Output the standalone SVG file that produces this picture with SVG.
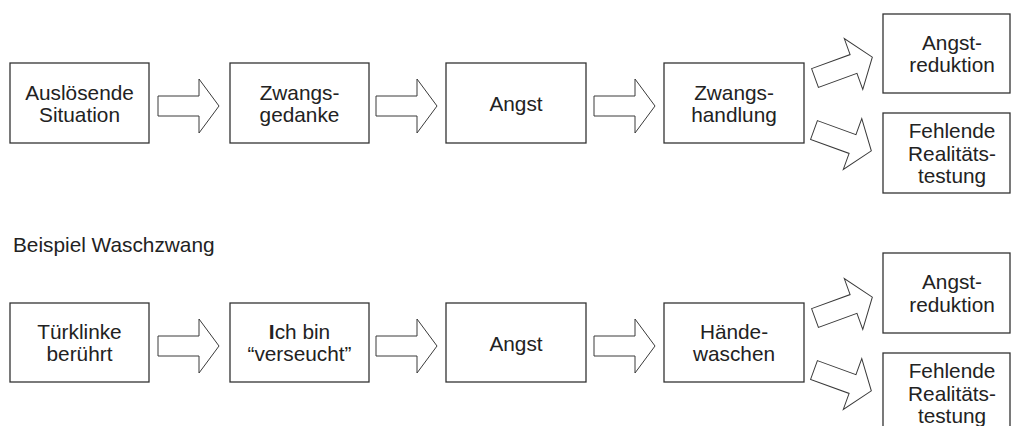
<svg xmlns="http://www.w3.org/2000/svg" width="1011" height="426" viewBox="0 0 1011 426">
<style>
.box{fill:#fff;stroke:#333;stroke-width:1.3}
.arr{fill:#fff;stroke:#3a3a3a;stroke-width:1}
text{font-family:"Liberation Sans",Arial,sans-serif;font-size:20.8px;fill:#222}
.c{text-anchor:middle}
</style>
<defs>
<path id="arrow" d="M0,-10 L41,-10 L41,-27 L61,0 L41,27 L41,10 L0,10 Z"/>
</defs>
<rect width="1011" height="426" fill="#fff"/>
<g id="connectors">
<use href="#arrow" class="arr" transform="translate(158,106)"/>
<use href="#arrow" class="arr" transform="translate(376,106)"/>
<use href="#arrow" class="arr" transform="translate(594,106)"/>
<use href="#arrow" class="arr" transform="translate(815,78) rotate(-20)"/>
<use href="#arrow" class="arr" transform="translate(814,130) rotate(20)"/>
<use href="#arrow" class="arr" transform="translate(158,346)"/>
<use href="#arrow" class="arr" transform="translate(376,346)"/>
<use href="#arrow" class="arr" transform="translate(594,346)"/>
<use href="#arrow" class="arr" transform="translate(815,318) rotate(-20)"/>
<use href="#arrow" class="arr" transform="translate(814,370) rotate(20)"/>
</g>
<g id="n1"><rect class="box" x="10" y="63" width="139" height="80"/><text class="c" x="79.5" y="99.5">Auslösende</text><text class="c" x="79.5" y="122">Situation</text></g>
<g id="n2"><rect class="box" x="230" y="63" width="139" height="80"/><text class="c" x="299.5" y="99.5">Zwangs-</text><text class="c" x="299.5" y="122">gedanke</text></g>
<g id="n3"><rect class="box" x="446" y="63" width="140" height="80"/><text class="c" x="516" y="110.5">Angst</text></g>
<g id="n4"><rect class="box" x="664" y="63" width="140" height="80"/><text class="c" x="734" y="99.5">Zwangs-</text><text class="c" x="734" y="122">handlung</text></g>
<g id="n5"><rect class="box" x="883" y="14" width="127" height="79"/><text class="c" x="952" y="49.5">Angst-</text><text class="c" x="952" y="72">reduktion</text></g>
<g id="n6"><rect class="box" x="883" y="113" width="127" height="80"/><text class="c" x="952" y="138">Fehlende</text><text class="c" x="952" y="160.5">Realitäts-</text><text class="c" x="952" y="183">testung</text></g>
<g id="title"><text x="13" y="252">Beispiel Waschzwang</text></g>
<g id="m1"><rect class="box" x="10" y="303" width="139" height="79"/><text class="c" x="79.5" y="338.5">Türklinke</text><text class="c" x="79.5" y="361">berührt</text></g>
<g id="m2"><rect class="box" x="230" y="303" width="139" height="79"/><text class="c" x="299.5" y="338.5"><tspan font-weight="bold">I</tspan>ch bin</text><text class="c" x="299.5" y="361">“verseucht”</text></g>
<g id="m3"><rect class="box" x="446" y="303" width="140" height="79"/><text class="c" x="516" y="350.5">Angst</text></g>
<g id="m4"><rect class="box" x="664" y="303" width="140" height="79"/><text class="c" x="734" y="338.5">Hände-</text><text class="c" x="734" y="361">waschen</text></g>
<g id="m5"><rect class="box" x="883" y="253" width="127" height="80"/><text class="c" x="952" y="289">Angst-</text><text class="c" x="952" y="311.5">reduktion</text></g>
<g id="m6"><rect class="box" x="883" y="353" width="127" height="80"/><text class="c" x="952" y="378">Fehlende</text><text class="c" x="952" y="400.5">Realitäts-</text><text class="c" x="952" y="423">testung</text></g>
</svg>
